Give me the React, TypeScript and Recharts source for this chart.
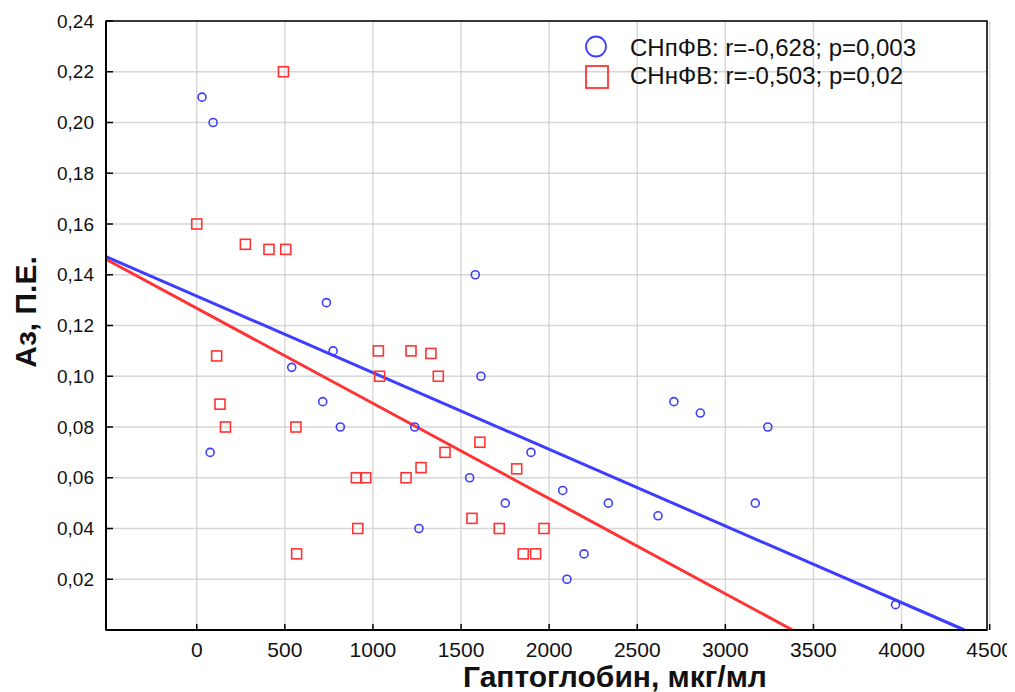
import { CartesianGrid, Label, Legend, ReferenceArea, ReferenceLine, Scatter, ScatterChart, XAxis, YAxis } from "recharts";

const BLUE = "#3d3dff";
const RED = "#ff3333";
const FONT = "'Liberation Sans', Arial, sans-serif";

// СНпФВ
const snpX = [30, 93, 76, 539, 736, 774, 715, 815, 1237, 1581, 1613, 1549, 1261, 1751, 1897, 2077, 2101, 2198, 2336, 2618, 2708, 2858, 3241, 3170, 3966];
const snpY = [0.21, 0.2, 0.07, 0.1035, 0.129, 0.11, 0.09, 0.08, 0.08, 0.14, 0.1, 0.06, 0.04, 0.05, 0.07, 0.055, 0.02, 0.03, 0.05, 0.045, 0.09, 0.0855, 0.08, 0.05, 0.01];

// СНнФВ
const snnX = [492, 0, 276, 410, 505, 113, 132, 163, 563, 567, 1031, 1216, 1329, 1038, 1371, 906, 959, 1188, 1273, 1409, 1607, 914, 1816, 1562, 1717, 1971, 1853, 1923];
const snnY = [0.22, 0.16, 0.152, 0.15, 0.15, 0.108, 0.089, 0.08, 0.08, 0.03, 0.11, 0.11, 0.109, 0.1, 0.1, 0.06, 0.06, 0.06, 0.064, 0.07, 0.074, 0.04, 0.0635, 0.044, 0.04, 0.04, 0.03, 0.03];

// regression lines: y = a + b*x
const snpFit = { a: 0.1316, b: -3.02e-5 };
const snnFit = { a: 0.1268, b: -3.75e-5 };

const xTicks = [0, 500, 1000, 1500, 2000, 2500, 3000, 3500, 4000, 4500];
const yTicks = [0.02, 0.04, 0.06, 0.08, 0.1, 0.12, 0.14, 0.16, 0.18, 0.2, 0.22, 0.24];
const X_MIN = -515;
const X_MAX = 4485;

const snpData = snpX.map((x, i) => ({ x, y: snpY[i] }));
const snnData = snnX.map((x, i) => ({ x, y: snnY[i] }));

function fitSegment(fit: { a: number; b: number }) {
  const xEnd = Math.min(X_MAX, -fit.a / fit.b);
  return [
    { x: X_MIN, y: fit.a + fit.b * X_MIN },
    { x: xEnd, y: Math.max(0, fit.a + fit.b * xEnd) },
  ];
}

const fmtY = (v: number) => v.toFixed(2).replace(".", ",");

function XTick(props: any) {
  const { x, y, payload } = props;
  return (
    <g>
      <line x1={x} x2={x} y1={y - 12} y2={y - 18} stroke="#000" strokeWidth={1.5} />
      <text x={x} y={y} dy="0.71em" textAnchor="middle" fontSize={21} fill="#111" fontFamily={FONT}>
        {payload.value}
      </text>
    </g>
  );
}

function YTick(props: any) {
  const { x, y, payload } = props;
  return (
    <g>
      <line x1={x + 12} x2={x + 19} y1={y} y2={y} stroke="#000" strokeWidth={1.5} />
      <text x={x} y={y} dy="0.355em" textAnchor="end" fontSize={19} fill="#111" fontFamily={FONT}>
        {fmtY(payload.value)}
      </text>
    </g>
  );
}

function LegendBox() {
  return (
    <svg width={360} height={70} style={{ display: "block" }}>
      <circle cx={18} cy={18.5} r={10} fill="none" stroke={BLUE} strokeWidth={1.8} />
      <rect x={8} y={38} width={22} height={22} fill="none" stroke={RED} strokeWidth={1.8} />
      <text x={52} y={27.5} fontSize={24} fill="#111" fontFamily={FONT}>СНпФВ: r=-0,628; p=0,003</text>
      <text x={52} y={55.5} fontSize={24} fill="#111" fontFamily={FONT}>СНнФВ: r=-0,503; p=0,02</text>
    </svg>
  );
}

export default function App() {
  return (
    <ScatterChart width={1007} height={684} margin={{ top: 13, right: 28, left: 0, bottom: 0 }} style={{ fontFamily: FONT }}>
      <CartesianGrid stroke="#d6d6d6" strokeWidth={1.4} />
      <XAxis
        type="number"
        dataKey="x"
        domain={[X_MIN, X_MAX]}
        ticks={xTicks}
        interval={0}
        height={62}
        tickSize={0}
        tickMargin={12}
        tickLine={false}
        tick={<XTick />}
        axisLine={{ stroke: "#000", strokeWidth: 2 }}
        allowDataOverflow
      >
        <Label
          content={() => (
            <text x={607} y={679} textAnchor="middle" fontSize={30} fontWeight="bold" fill="#111" fontFamily={FONT}>
              Гаптоглобин, мкг/мл
            </text>
          )}
        />
      </XAxis>
      <YAxis
        type="number"
        dataKey="y"
        domain={[0, 0.24]}
        ticks={yTicks}
        interval={0}
        width={98}
        tickSize={0}
        tickMargin={12}
        tickLine={false}
        tick={<YTick />}
        axisLine={{ stroke: "#000", strokeWidth: 2 }}
      >
        <Label
          content={() => (
            <text
              x={28}
              y={304}
              transform="rotate(-90, 28, 304)"
              textAnchor="middle"
              fontSize={30}
              fontWeight="bold"
              fill="#111"
              fontFamily={FONT}
            >
              Аз, П.Е.
            </text>
          )}
        />
      </YAxis>
      <ReferenceArea x1={X_MIN} x2={X_MAX} y1={0} y2={0.24} fill="none" stroke="#000" strokeWidth={1.5} ifOverflow="visible" />
      <ReferenceLine segment={fitSegment(snpFit)} stroke={BLUE} strokeWidth={3} ifOverflow="visible" />
      <ReferenceLine segment={fitSegment(snnFit)} stroke={RED} strokeWidth={3} ifOverflow="visible" />
      <Scatter
        name="СНпФВ"
        data={snpData}
        isAnimationActive={false}
        shape={(p: any) => <circle cx={p.cx} cy={p.cy} r={4} fill="none" stroke={BLUE} strokeWidth={1.6} />}
      />
      <Scatter
        name="СНнФВ"
        data={snnData}
        isAnimationActive={false}
        shape={(p: any) => <rect x={p.cx - 5} y={p.cy - 5} width={10} height={10} fill="none" stroke={RED} strokeWidth={1.6} />}
      />
      <Legend
        layout="vertical"
        align="center"
        verticalAlign="middle"
        content={() => <LegendBox />}
        wrapperStyle={{ top: 20, left: 570, width: 360, height: 70 }}
      />
    </ScatterChart>
  );
}
